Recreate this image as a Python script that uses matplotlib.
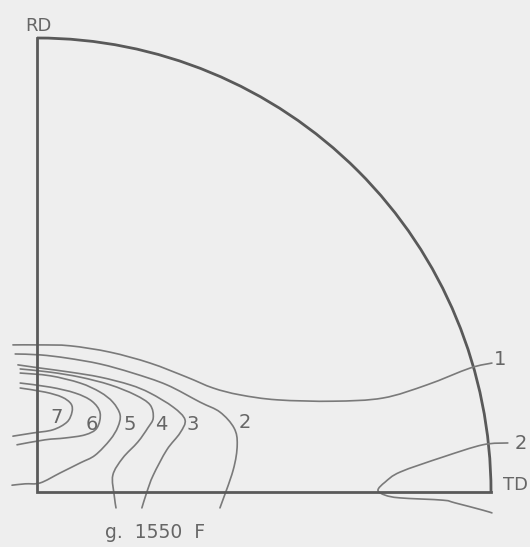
import matplotlib
matplotlib.use('Agg')
import matplotlib.pyplot as plt
from matplotlib.patches import Arc, PathPatch
from matplotlib.path import Path
import numpy as np

# pole figure quadrant, unit radius; x along TD, y along RD
levels = ['1', '2', '3', '4', '5', '6', '7', '2']

c1_x = [-0.053, 0.007, 0.073, 0.161, 0.249, 0.330, 0.388, 0.447, 0.529, 0.652, 0.762, 0.859, 0.954, 1.002]
c1_y = [0.324, 0.324, 0.322, 0.308, 0.284, 0.253, 0.229, 0.214, 0.203, 0.200, 0.207, 0.236, 0.273, 0.284]

c2_x = [-0.048, 0.007, 0.066, 0.139, 0.211, 0.286, 0.359, 0.403, 0.434, 0.441, 0.432, 0.403]
c2_y = [0.304, 0.302, 0.295, 0.282, 0.262, 0.236, 0.198, 0.176, 0.141, 0.104, 0.048, -0.035]

c3_x = [-0.042, 0.007, 0.073, 0.139, 0.205, 0.249, 0.300, 0.326, 0.315, 0.286, 0.256, 0.242, 0.231]
c3_y = [0.280, 0.273, 0.264, 0.253, 0.236, 0.218, 0.187, 0.159, 0.130, 0.093, 0.037, 0.000, -0.035]

c4_x = [-0.037, 0.029, 0.095, 0.161, 0.216, 0.249, 0.256, 0.244, 0.222, 0.189, 0.167, 0.170, 0.174]
c4_y = [0.271, 0.264, 0.253, 0.236, 0.214, 0.192, 0.163, 0.141, 0.110, 0.075, 0.037, -0.007, -0.035]

c5_x = [-0.037, 0.029, 0.095, 0.139, 0.167, 0.183, 0.178, 0.161, 0.128, 0.095, 0.051, 0.007, -0.026, -0.055]
c5_y = [0.262, 0.256, 0.240, 0.220, 0.198, 0.170, 0.143, 0.115, 0.081, 0.064, 0.042, 0.020, 0.018, 0.015]

c6_x = [-0.037, 0.029, 0.084, 0.121, 0.139, 0.132, 0.106, 0.062, 0.018, -0.044]
c6_y = [0.240, 0.231, 0.218, 0.200, 0.174, 0.141, 0.126, 0.119, 0.115, 0.104]

c7_x = [-0.037, 0.018, 0.055, 0.075, 0.077, 0.066, 0.035, -0.009, -0.053]
c7_y = [0.229, 0.220, 0.209, 0.194, 0.176, 0.154, 0.137, 0.130, 0.123]

# second level-2 lobe near TD
c2b_x = [1.037, 0.982, 0.894, 0.800, 0.767, 0.751, 0.767, 0.800, 0.894, 0.921, 0.982, 1.002]
c2b_y = [0.108, 0.104, 0.077, 0.044, 0.022, 0.004, -0.007, -0.013, -0.018, -0.024, -0.040, -0.046]

lbl_x = [1.020, 0.458, 0.344, 0.273, 0.205, 0.121, 0.044, 1.066]
lbl_y = [0.291, 0.152, 0.148, 0.148, 0.148, 0.148, 0.163, 0.106]

bg = '#eeeeee'
line_c = '#7a7a7a'
frame_c = '#595959'
text_c = '#666666'
fam = ['Liberation Sans Narrow', 'DejaVu Sans']


def smooth_path(xs, ys):
    # Catmull-Rom through the points, handed to matplotlib as cubic Beziers
    p = np.column_stack([xs, ys])
    ext = np.vstack([p[0], p, p[-1]])
    verts = [p[0]]
    codes = [Path.MOVETO]
    for i in range(1, len(ext) - 2):
        a, b, c, d = ext[i - 1], ext[i], ext[i + 1], ext[i + 2]
        verts += [b + (c - a) / 6, c - (d - b) / 6, c]
        codes += [Path.CURVE4] * 3
    return Path(verts, codes)


fig = plt.figure(figsize=(5.30, 5.47), dpi=100, facecolor=bg)
ax = fig.add_axes([0, 0, 1, 1])
ax.set_facecolor(bg)
ax.set_xlim(-37 / 454, 493 / 454)
ax.set_ylim(-55 / 454, 492 / 454)
ax.set_aspect('equal')
ax.axis('off')

# frame: two radii and the quarter arc
ax.plot([0, 0, 1], [1, 0, 0], color=frame_c, lw=2.0, solid_joinstyle='miter')
ax.add_patch(Arc((0, 0), 2, 2, theta1=0, theta2=90, color=frame_c, lw=2.0))

for xs, ys in [(c1_x, c1_y), (c2_x, c2_y), (c3_x, c3_y), (c4_x, c4_y),
               (c5_x, c5_y), (c6_x, c6_y), (c7_x, c7_y), (c2b_x, c2b_y)]:
    ax.add_patch(PathPatch(smooth_path(xs, ys), fill=False, edgecolor=line_c,
                           lw=1.2, capstyle='round', joinstyle='round'))

for s, x, y in zip(levels, lbl_x, lbl_y):
    ax.text(x, y, s, fontsize=14, color=text_c, ha='center', va='center', family=fam)

ax.text(0.004, 1.026, 'RD', fontsize=13, color=text_c, ha='center', va='center', family=fam)
ax.text(1.055, 0.015, 'TD', fontsize=13, color=text_c, ha='center', va='center', family=fam)
ax.text(0.260, -0.090, 'g.  1550  F', fontsize=13.5, color=text_c, ha='center', va='center', family=fam)

fig.savefig('out.png', dpi=100, facecolor=bg)
